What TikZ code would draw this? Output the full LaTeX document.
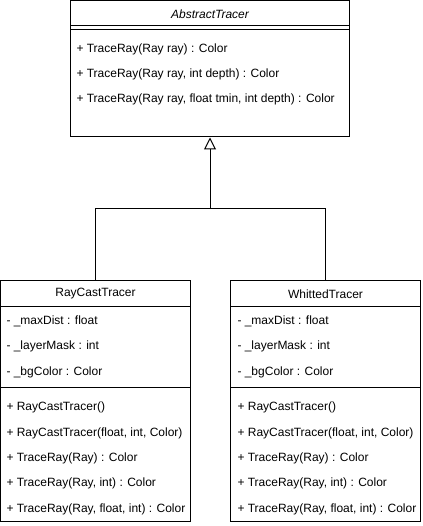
\documentclass[tikz,border=0pt]{standalone}
\usepackage{fontspec}
\setmainfont{Liberation Sans}
\usetikzlibrary{arrows.meta}

\begin{document}
\begin{tikzpicture}[x=1pt, y=-1pt, line width=1pt,
        font=\fontsize{12}{14}\selectfont,
        classbox/.style={draw, inner sep=0pt},
        member/.style={anchor=west, inner sep=0pt}]
            \useasboundingbox (0,0) rectangle (422,526);
            % abstract base class
            \node[classbox, minimum width=279pt, minimum height=136pt] (abs) at (210,69) {};
            \node[font=\fontsize{12}{14}\selectfont\itshape] (abstitle) at (210,14) {AbstractTracer};
            \draw (abs.north west) ++(0,25) -- ++(279,0);
            \draw (abs.north west) ++(0,29) -- ++(279,0);
            \node[member] (absm1) at (76,49) {+ TraceRay(Ray ray) : Color};
            \node[member] (absm2) at (76,74) {+ TraceRay(Ray ray, int depth) : Color};
            \node[member] (absm3) at (76,99) {+ TraceRay(Ray ray, float tmin, int depth) : Color};
            % RayCastTracer
            \node[classbox, minimum width=190pt, minimum height=240.5pt] (ray) at (95.5,400.75) {};
            \node (raytitle) at (95.5,294) {RayCastTracer};
            \draw (ray.north west) ++(0,26) -- ++(190,0);
            \draw (ray.north west) ++(0,107) -- ++(190,0);
            \node[member] (raya1) at (6,321) {- \_maxDist : float};
            \node[member] (raya2) at (6,346) {- \_layerMask : int};
            \node[member] (raya3) at (6,372) {- \_bgColor : Color};
            \node[member] (raym1) at (6,407) {+ RayCastTracer()};
            \node[member] (raym2) at (6,433) {+ RayCastTracer(float, int, Color)};
            \node[member] (raym3) at (6,458) {+ TraceRay(Ray) : Color};
            \node[member] (raym4) at (6,483) {+ TraceRay(Ray, int) : Color};
            \node[member] (raym5) at (6,509) {+ TraceRay(Ray, float, int) : Color};
            % WhittedTracer
            \node[classbox, minimum width=190pt, minimum height=240.5pt] (whitted) at (325.5,400.75) {};
            \node (whittedtitle) at (325.5,294) {WhittedTracer};
            \draw (whitted.north west) ++(0,26) -- ++(190,0);
            \draw (whitted.north west) ++(0,107) -- ++(190,0);
            \node[member] (whitteda1) at (237,321) {- \_maxDist : float};
            \node[member] (whitteda2) at (237,346) {- \_layerMask : int};
            \node[member] (whitteda3) at (237,372) {- \_bgColor : Color};
            \node[member] (whittedm1) at (237,407) {+ RayCastTracer()};
            \node[member] (whittedm2) at (237,433) {+ RayCastTracer(float, int, Color)};
            \node[member] (whittedm3) at (237,458) {+ TraceRay(Ray) : Color};
            \node[member] (whittedm4) at (237,483) {+ TraceRay(Ray, int) : Color};
            \node[member] (whittedm5) at (237,509) {+ TraceRay(Ray, float, int) : Color};
            % inheritance
            \coordinate (junc) at (210,209);
            \draw (ray.north) |- (junc);
            \draw (whitted.north) |- (junc);
            \draw[-{Triangle[open, length=12pt, width=12pt]}] (junc) -- (abs.south);
        \end{tikzpicture}
\end{document}
